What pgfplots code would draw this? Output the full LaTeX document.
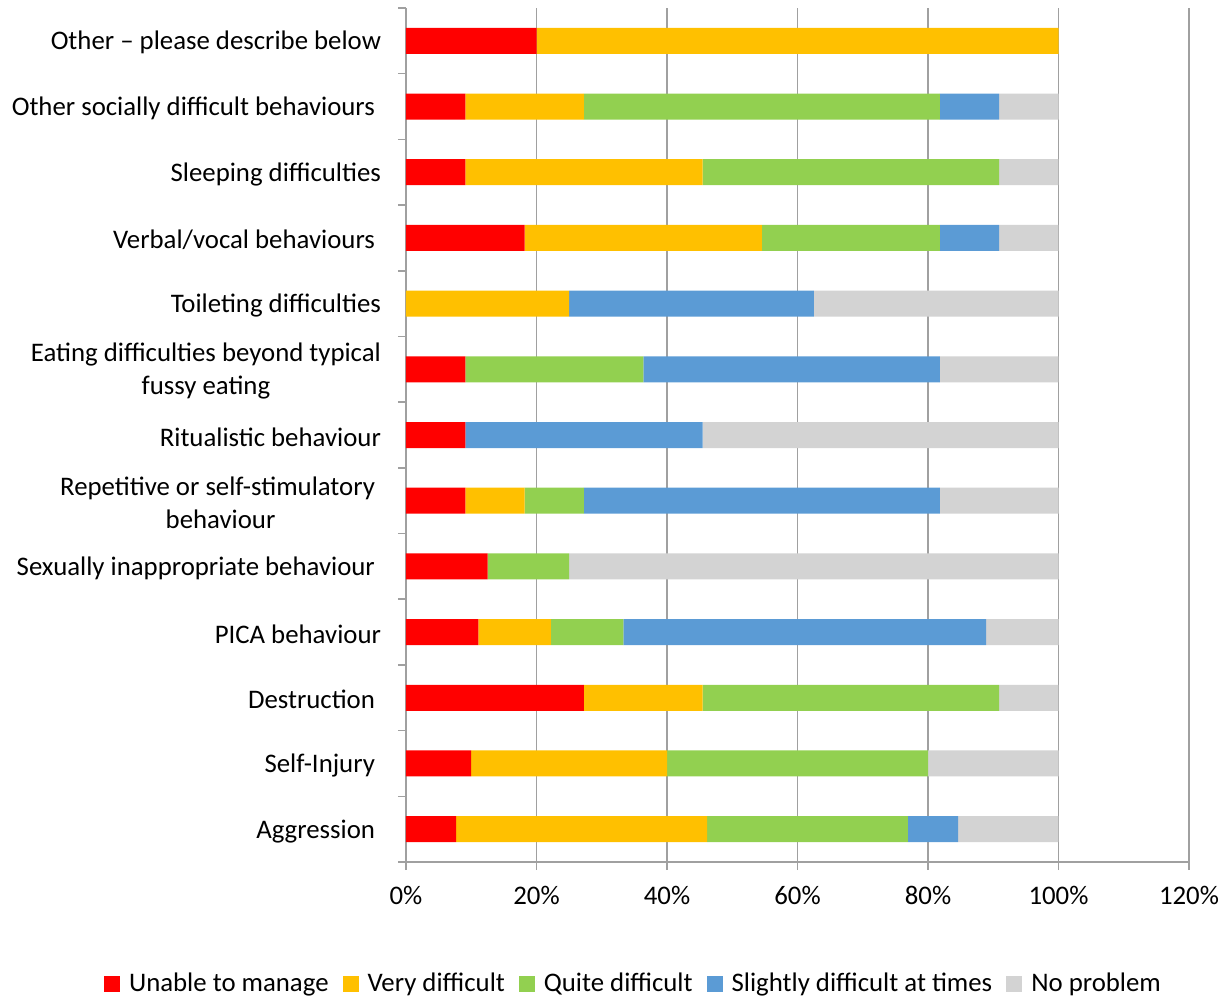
\documentclass[border=0pt]{standalone}
\usepackage{pgfplots}
\pgfplotsset{compat=1.18}
\usepackage{fontspec}
\setmainfont{Carlito}
\definecolor{cred}{HTML}{FF0000}
\definecolor{cyel}{HTML}{FFC000}
\definecolor{cgrn}{HTML}{92D050}
\definecolor{cblu}{HTML}{5B9BD5}
\definecolor{cgry}{HTML}{D3D3D3}
\definecolor{axgray}{HTML}{A0A0A0}
\begin{document}
\begin{tikzpicture}
\begin{axis}[
  scale only axis, width=391.5pt, height=427pt,
  xbar stacked, bar width=13pt,
  xmin=0, xmax=120, ymin=-0.5, ymax=12.5,
  axis lines*=left,
  axis line style={-, draw=axgray, line width=0.8pt},
  xtick={0,20,...,120},
  xticklabel={\pgfmathprintnumber{\tick}\%},
  /pgf/number format/assume math mode=true,
  xmajorgrids, major grid style={draw=axgray, line width=0.8pt},
  ytick={0,...,12},
  yticklabels={Aggression\hspace*{3pt}, Self-Injury\hspace*{3pt}, Destruction\hspace*{3pt}, PICA behaviour, Sexually inappropriate behaviour\hspace*{3pt}, {Repetitive or self-stimulatory\hspace*{3pt}\\behaviour}, Ritualistic behaviour, {Eating difficulties beyond typical\\fussy eating}, Toileting difficulties, Verbal/vocal behaviours\hspace*{3pt}, Sleeping difficulties, Other socially difficult behaviours\hspace*{3pt}, Other – please describe below},
  minor ytick={-0.5,0.5,...,12.5},
  major y tick style={draw=none},
  minor y tick style={draw=axgray, line width=0.8pt},
  major x tick style={draw=axgray, line width=0.8pt},
  tick align=outside,
  major tick length=4pt, minor tick length=4pt,
  ticklabel style={font=\fontsize{13.4pt}{16.5pt}\selectfont},
  yticklabel style={align=center, xshift=-5pt, yshift=-1pt},
  xticklabel style={yshift=-4.5pt},
  legend style={at={(0.2918,-0.1429)}, anchor=center, draw=none, legend columns=5,
    font=\fontsize{13.4pt}{15pt}\selectfont,
    /tikz/every even column/.append style={column sep=5pt},
    /tikz/every odd column/.append style={column sep=2.5pt}},
  legend image code/.code={\fill[#1] (0pt,-4pt) rectangle (8pt,4pt);},
]
\addplot[fill=cred, draw=none] coordinates {(7.69,0) (10,1) (27.27,2) (11.11,3) (12.5,4) (9.09,5) (9.09,6) (9.09,7) (0,8) (18.18,9) (9.09,10) (9.09,11) (20,12)};
\addplot[fill=cyel, draw=none] coordinates {(38.46,0) (30,1) (18.18,2) (11.11,3) (0,4) (9.09,5) (0,6) (0,7) (25,8) (36.36,9) (36.36,10) (18.18,11) (80,12)};
\addplot[fill=cgrn, draw=none] coordinates {(30.77,0) (40,1) (45.45,2) (11.11,3) (12.5,4) (9.09,5) (0,6) (27.27,7) (0,8) (27.27,9) (45.45,10) (54.55,11) (0,12)};
\addplot[fill=cblu, draw=none] coordinates {(7.69,0) (0,1) (0,2) (55.56,3) (0,4) (54.55,5) (36.36,6) (45.45,7) (37.5,8) (9.09,9) (0,10) (9.09,11) (0,12)};
\addplot[fill=cgry, draw=none] coordinates {(15.38,0) (20,1) (9.09,2) (11.11,3) (75,4) (18.18,5) (54.55,6) (18.18,7) (37.5,8) (9.09,9) (9.09,10) (9.09,11) (0,12)};
\legend{Unable to manage, Very difficult, Quite difficult, Slightly difficult at times, No problem}
\end{axis}
\pgfresetboundingbox
\useasboundingbox (-203pt,-67.5pt) rectangle (411.5pt,431pt);
\end{tikzpicture}
\end{document}
